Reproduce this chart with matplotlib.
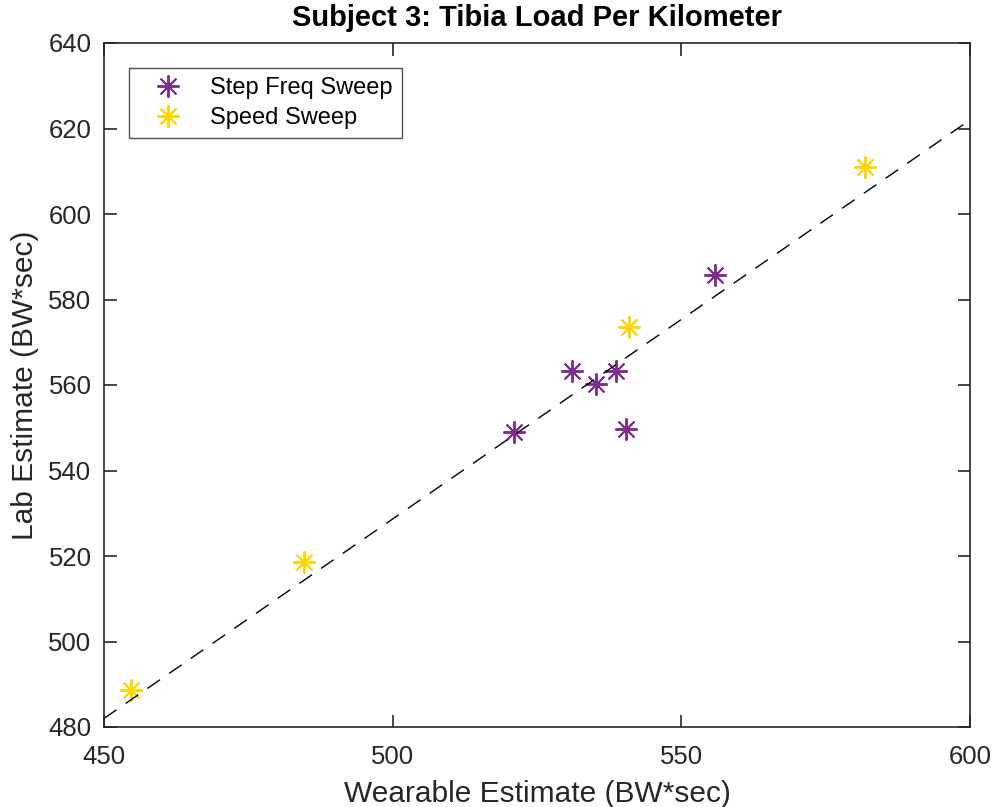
import matplotlib
matplotlib.use("Agg")
import matplotlib.pyplot as plt
import numpy as np

plt.rcParams['font.family'] = ['Liberation Sans', 'DejaVu Sans']

step_x = [521.0, 531.0, 535.3, 538.6, 540.4, 555.8]
step_y = [549.0, 563.3, 560.2, 563.3, 549.7, 585.7]
speed_x = [454.6, 484.6, 540.9, 581.8]
speed_y = [488.7, 518.5, 573.6, 610.9]
fit_x = [450.0, 600.0]
fit_y = [482.0, 622.0]

xticks = [450, 500, 550, 600]
yticks = [480, 500, 520, 540, 560, 580, 600, 620, 640]

fig = plt.figure(figsize=(9.95, 8.07), dpi=100)
ax = fig.add_axes([104/995, 1-727/807, (970-104)/995, (727-43)/807])

asterisk = (8, 2, 0)
ax.plot(step_x, step_y, linestyle='none', marker=asterisk, markersize=16,
        markeredgewidth=1.4, color='#7E2F8E', label='Step Freq Sweep')
ax.plot(speed_x, speed_y, linestyle='none', marker=asterisk, markersize=16,
        markeredgewidth=1.4, color='#FFD500', label='Speed Sweep')
ax.plot(fit_x, fit_y, color='black', linewidth=1.0, dashes=(11, 8))

ax.set_xlim(450, 600)
ax.set_ylim(480, 640)
ax.set_xticks(xticks)
ax.set_yticks(yticks)

axcol = '#262626'
for s in ax.spines.values():
    s.set_color(axcol)
    s.set_linewidth(1.2)
ax.tick_params(direction='in', length=9, width=1.2, colors=axcol, labelsize=18.5,
               top=True, right=True)
ax.tick_params(axis='x', pad=13)
ax.tick_params(axis='y', pad=9)

ax.set_xlabel('Wearable Estimate (BW*sec)', fontsize=21.5, color=axcol, labelpad=8)
ax.set_ylabel('Lab Estimate (BW*sec)', fontsize=21.5, color=axcol, labelpad=7)
ax.set_title('Subject 3: Tibia Load Per Kilometer', fontsize=21, fontweight='bold', pad=12)

leg = ax.legend(loc='upper left', bbox_to_anchor=(25/866, 1-25/684), fontsize=17,
                frameon=True, fancybox=False, edgecolor=axcol, borderpad=0.4,
                handlelength=2.5, handletextpad=0.55, labelspacing=0.32, borderaxespad=0)
leg.get_frame().set_linewidth(1.0)

fig.savefig('out.png', dpi=100)
